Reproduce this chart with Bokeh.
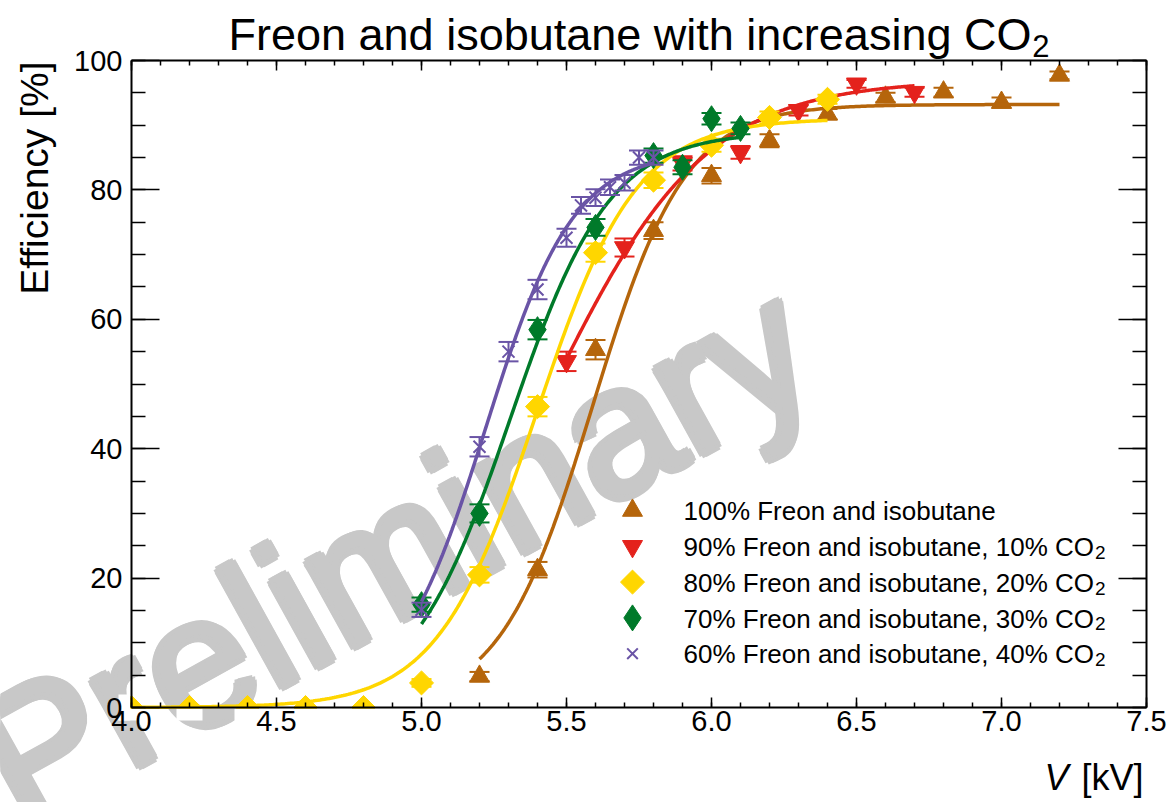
import numpy as np
from bokeh.embed import file_html
from bokeh.models import (CustomJSTickFormatter, Label, LinearAxis, NumeralTickFormatter,
                          Range1d, SingleIntervalTicker)
from bokeh.plotting import figure
from bokeh.resources import INLINE

FONT = "Liberation Sans"

# ---------------------------------------------------------------------------
# High-voltage scans: efficiency [%] versus V [kV] for five gas mixtures
# ---------------------------------------------------------------------------
hv_100 = [5.2, 5.4, 5.6, 5.8, 6.0, 6.2, 6.4, 6.6, 6.8, 7.0, 7.2]
eff_100 = [4.8, 21.3, 55.3, 73.7, 82.2, 87.6, 91.7, 94.3, 95.1, 93.5, 97.7]
err_100 = [0.7, 1.2, 1.5, 1.3, 1.2, 1.0, 0.8, 0.7, 0.7, 0.8, 0.6]

hv_90 = [5.5, 5.7, 5.9, 6.1, 6.3, 6.5, 6.7]
eff_90 = [53.5, 71.1, 84.1, 85.8, 92.3, 96.4, 95.1]
err_90 = [1.5, 1.4, 1.1, 1.0, 0.8, 0.6, 0.7]

hv_80 = [4.0, 4.2, 4.4, 4.6, 4.8, 5.0, 5.2, 5.4, 5.6, 5.8, 6.0, 6.2, 6.4]
eff_80 = [0.0, 0.0, 0.0, 0.0, 0.0, 3.8, 20.5, 46.5, 70.3, 81.5, 86.9, 91.2, 94.0]
err_80 = [0.0, 0.0, 0.0, 0.0, 0.0, 0.6, 1.2, 1.5, 1.4, 1.2, 1.0, 0.9, 0.7]

hv_70 = [5.0, 5.2, 5.4, 5.6, 5.8, 5.9, 6.0, 6.1]
eff_70 = [15.9, 30.0, 58.4, 74.2, 85.3, 83.5, 91.0, 89.5]
err_70 = [1.1, 1.4, 1.5, 1.3, 1.1, 1.1, 0.9, 0.9]

hv_60 = [5.0, 5.2, 5.3, 5.4, 5.5, 5.55, 5.6, 5.65, 5.7, 5.75, 5.8]
eff_60 = [15.1, 40.3, 55.0, 64.6, 72.6, 77.6, 78.8, 80.4, 81.1, 85.0, 85.0]
err_60 = [1.1, 1.5, 1.5, 1.5, 1.4, 1.3, 1.3, 1.2, 1.2, 1.1, 1.1]

# Sigmoid fit results: plateau [%], V50 [kV], width [kV], fitted HV interval
fit_100 = (93.2, 5.59, 0.160, 5.2, 7.2)
fit_90 = (97.0, 5.44, 0.270, 5.5, 6.7)
fit_80 = (91.0, 5.397, 0.172, 4.0, 6.4)
fit_70 = (89.0, 5.305, 0.172, 5.0, 6.1)
fit_60 = (86.0, 5.22, 0.152, 5.0, 5.8)

labels_main = [
    "100% Freon and isobutane",
    "90% Freon and isobutane, 10% CO",
    "80% Freon and isobutane, 20% CO",
    "70% Freon and isobutane, 30% CO",
    "60% Freon and isobutane, 40% CO",
]
labels_sub = ["", "2", "2", "2", "2"]

colors = ["#b5650b", "#e4221c", "#ffd600", "#007a2a", "#6a54a6"]

x_ticks_step = 0.5
y_ticks_step = 20

X_RANGE = (4.0, 7.5)
Y_RANGE = (0.0, 100.0)

# ---------------------------------------------------------------------------
# Canvas geometry: the plotting frame spans the whole canvas, the axes box
# is placed inside it with fixed-location axes
# ---------------------------------------------------------------------------
W, H = 1168, 802
FL, FR, FT, FB = 131, 1146, 60, 707   # axes box edges in canvas pixels


def kv(px):
    """canvas x pixel -> V [kV]"""
    return X_RANGE[0] + (px - FL) * (X_RANGE[1] - X_RANGE[0]) / (FR - FL)


def pct(py):
    """canvas y pixel -> efficiency [%]"""
    return Y_RANGE[1] - (py - FT) * (Y_RANGE[1] - Y_RANGE[0]) / (FB - FT)


p = figure(
    frame_width=W, frame_height=H,
    min_border_left=0, min_border_right=0, min_border_top=0, min_border_bottom=0,
    x_range=Range1d(kv(0), kv(W)), y_range=Range1d(pct(H), pct(0)),
    x_axis_location=None, y_axis_location=None,
    output_backend="svg", toolbar_location=None, title=None,
    background_fill_color="white", border_fill_color="white",
)
p.grid.visible = False
p.outline_line_color = None

# baseline-anchored labels come out ~0.34 em below the anchor; compensate
BASELINE_SHIFT_EM = 0.34


def text_at(px, py, text, size, angle=0.0, **kw):
    """Place text with its baseline origin at canvas pixel (px, py)."""
    a = np.deg2rad(angle)
    d = BASELINE_SHIFT_EM * size
    ax_, ay_ = px - np.sin(a) * d, py - np.cos(a) * d
    opts = dict(text_font=FONT, text_font_size=f"{size}px", text_align="left",
                text_baseline="alphabetic", text_color="black")
    opts.update(kw)
    p.add_layout(Label(x=kv(ax_), y=pct(ay_), text=text, angle=angle, angle_units="deg", **opts))


def make_axis(loc, bounds, ticker, major_in, minor_in, labels):
    ax = LinearAxis(ticker=ticker, fixed_location=loc, bounds=bounds)
    ax.major_tick_in = major_in
    ax.major_tick_out = 0
    ax.minor_tick_in = minor_in
    ax.minor_tick_out = 0
    ax.axis_line_color = "black"
    ax.axis_line_width = 2
    ax.major_tick_line_color = "black"
    ax.major_tick_line_width = 1.5
    ax.minor_tick_line_color = "black"
    ax.minor_tick_line_width = 1.5
    ax.major_label_text_font = FONT
    ax.major_label_text_color = "black"
    ax.major_label_text_font_size = "29px"
    if not labels:
        ax.formatter = CustomJSTickFormatter(code="return ''")
    return ax


x_ticker = SingleIntervalTicker(interval=x_ticks_step, num_minor_ticks=5)
y_ticker = SingleIntervalTicker(interval=y_ticks_step, num_minor_ticks=4)

x_bottom = make_axis(Y_RANGE[0], X_RANGE, x_ticker, 10, 5, True)
x_bottom.formatter = NumeralTickFormatter(format="0.0")
x_bottom.major_label_standoff = 3
x_top = make_axis(Y_RANGE[1], X_RANGE, x_ticker, 10, 5, False)
y_left = make_axis(X_RANGE[0], Y_RANGE, y_ticker, 28, 14, True)
y_left.major_label_standoff = 9
y_right = make_axis(X_RANGE[1], Y_RANGE, y_ticker, 28, 14, False)

p.add_layout(x_bottom, "below")
p.add_layout(x_top, "above")
p.add_layout(y_left, "left")
p.add_layout(y_right, "right")

# ---------------------------------------------------------------------------
# Watermark (behind everything): regular face, strokes widened by stamping
# the word on a small ring of offsets, which also rounds the stroke ends
# ---------------------------------------------------------------------------
WM_X, WM_Y, WM_SIZE, WM_ANGLE, WM_RING = 20, 830, 184, 29, 4.5
for k in range(9):
    if k == 0:
        ox = oy = 0.0
    else:
        t = 2 * np.pi * (k - 1) / 8
        ox, oy = WM_RING * np.cos(t), WM_RING * np.sin(t)
    text_at(WM_X + ox, WM_Y + oy, "Preliminary", WM_SIZE, angle=WM_ANGLE,
            text_color="#c8c8c8", level="underlay")

# ---------------------------------------------------------------------------
# Data: error bars, markers and sigmoid fits
# ---------------------------------------------------------------------------
series = [
    (hv_100, eff_100, err_100, fit_100, dict(marker="triangle", size=20, angle=0)),
    (hv_90, eff_90, err_90, fit_90, dict(marker="inverted_triangle", size=20, angle=0)),
    (hv_80, eff_80, err_80, fit_80, dict(marker="square", size=17, angle=np.pi / 4)),
    (hv_70, eff_70, err_70, fit_70, dict(marker="diamond", size=26, angle=0)),
    (hv_60, eff_60, err_60, fit_60, dict(marker="x", size=17, angle=0)),
]

MARK_HALF_PX = 13      # half extent of the largest marker, for clipping at the axes box
clip_l, clip_r, clip_b, clip_t = [], [], [], []

for (hv, eff, err, fit, mk), col in zip(series, colors):
    hv = np.asarray(hv, float)
    eff = np.asarray(eff, float)
    err = np.asarray(err, float)
    has = err > 0
    lo = eff - err
    hi = eff + err
    p.segment(x0=hv[has], y0=lo[has], x1=hv[has], y1=hi[has], line_color=col, line_width=2)
    p.scatter(x=np.r_[hv[has], hv[has]], y=np.r_[lo[has], hi[has]], marker="dash",
              size=20, line_color=col, line_width=2)
    if mk["marker"] == "x":
        p.scatter(x=hv, y=eff, marker="x", size=mk["size"], line_color=col, line_width=2)
    else:
        p.scatter(x=hv, y=eff, marker=mk["marker"], size=mk["size"], angle=mk["angle"],
                  fill_color=col, line_color=col, line_width=1)

    plateau, v50, width, v_lo, v_hi = fit
    v = np.linspace(v_lo, v_hi, 300)
    p.line(v, plateau / (1.0 + np.exp(-(v - v50) / width)), line_color=col, line_width=3.5)

    # parts of markers that stick out of the axes box are hidden
    dv = MARK_HALF_PX * (X_RANGE[1] - X_RANGE[0]) / (FR - FL)
    de = MARK_HALF_PX * (Y_RANGE[1] - Y_RANGE[0]) / (FB - FT)
    for xv, yv in zip(hv, eff):
        if yv - de < Y_RANGE[0]:
            clip_l.append(xv - dv); clip_r.append(xv + dv)
            clip_t.append(pct(FB + 1.2)); clip_b.append(yv - de)
        if xv - dv < X_RANGE[0]:
            clip_l.append(xv - dv); clip_r.append(kv(FL - 1.2))
            clip_t.append(yv + de); clip_b.append(yv - de)

p.quad(left=clip_l, right=clip_r, top=clip_t, bottom=clip_b,
       fill_color="white", line_color=None)

# ---------------------------------------------------------------------------
# Legend
# ---------------------------------------------------------------------------
LEG_MARK_PX = 632
LEG_TEXT_PX = 683
LEG_ROW0_PY = 510
LEG_STEP_PY = 35.8
LEG_FONT = 26
SUB_FONT = 19
CO_END_EM = 15.786   # advance of "90% Freon and isobutane, 10% CO" in em

for i, ((_, _, _, _, mk), col) in enumerate(zip(series, colors)):
    cy = LEG_ROW0_PY + i * LEG_STEP_PY
    if mk["marker"] == "x":
        p.scatter(x=[kv(LEG_MARK_PX)], y=[pct(cy)], marker="x", size=15, line_color=col, line_width=2)
    else:
        p.scatter(x=[kv(LEG_MARK_PX)], y=[pct(cy)], marker=mk["marker"], size=mk["size"],
                  angle=mk["angle"], fill_color=col, line_color=col, line_width=1)
    base = cy + 9.5
    text_at(LEG_TEXT_PX, base, labels_main[i], LEG_FONT)
    if labels_sub[i]:
        text_at(LEG_TEXT_PX + CO_END_EM * LEG_FONT + 1, base + 3, labels_sub[i], SUB_FONT)

# ---------------------------------------------------------------------------
# Titles
# ---------------------------------------------------------------------------
TITLE_FONT = 45
text_at(228, 49, "Freon and isobutane with increasing CO", TITLE_FONT)
text_at(228 + 17.841 * TITLE_FONT + 1, 56, "2", 31)

AX_FONT = 36
text_at(FR - 3, 789, "[kV]", AX_FONT, text_align="right")
text_at(FR - 3 - 1.723 * AX_FONT - 13, 789, "V", AX_FONT, text_align="right",
        text_font_style="italic")
text_at(47, 61, "Efficiency [%]", 39, angle=90, text_align="right")

open("out.html", "w").write(file_html(p, INLINE))
